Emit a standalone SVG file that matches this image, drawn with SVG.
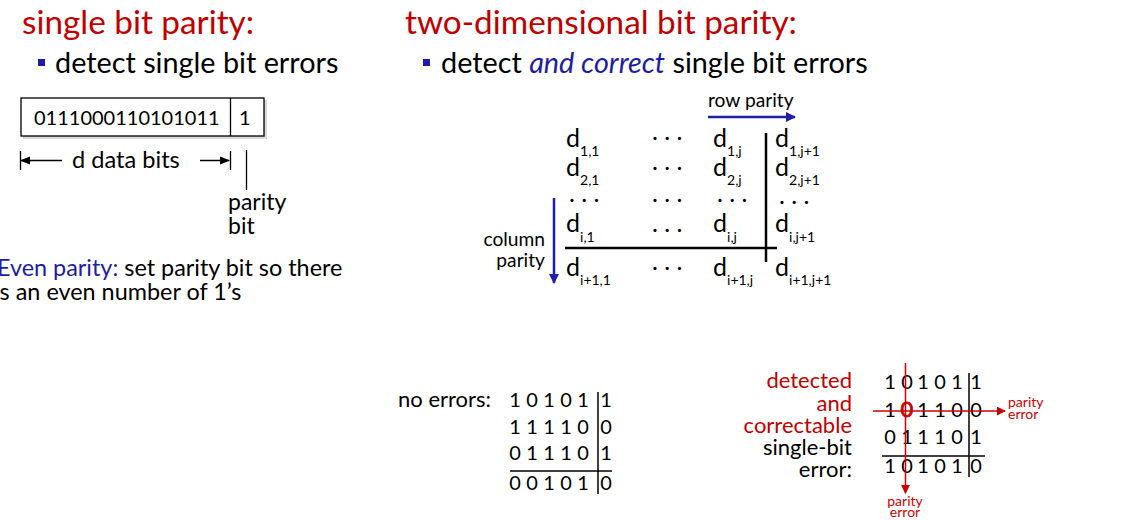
<svg xmlns="http://www.w3.org/2000/svg" width="1136" height="520" viewBox="0 0 1136 520">
<defs>
<style>
text{font-family:Lato,"Liberation Sans",sans-serif;fill:#000}
.title{font-size:33.3px;fill:#c00000}
.bul{font-size:28.8px}
.blue{fill:#1c1ca6}
.red{fill:#c00000}
.m{font-size:25px}
.sub{font-size:14px}
.dig{font-size:20px;text-anchor:middle}
.lbl{font-size:19.2px}
.lab{font-size:22px}
.small{font-size:14px;fill:#cc0000}
.blk{stroke:#000;fill:none}
</style>
<marker id="ab" viewBox="0 0 10 10" refX="9" refY="5" markerWidth="4" markerHeight="4" orient="auto-start-reverse" markerUnits="strokeWidth"><path d="M0,0 L10,5 L0,10 z" fill="#1f1fa6"/></marker>
<marker id="ar" viewBox="0 0 10 10" refX="9" refY="5" markerWidth="6" markerHeight="6" orient="auto" markerUnits="strokeWidth"><path d="M0,0 L10,5 L0,10 z" fill="#cc0000"/></marker>
<marker id="ak" viewBox="0 0 10 10" refX="9" refY="5" markerWidth="7" markerHeight="7" orient="auto-start-reverse" markerUnits="strokeWidth"><path d="M0,1 L10,5 L0,9 z" fill="#000"/></marker>
</defs>
<rect width="1136" height="520" fill="#fff"/>

<g id="left-heading">
<text class="title" x="22" y="34">single bit parity:</text>
<rect x="38" y="59" width="7" height="7" fill="#1c1ca6"/>
<text class="bul" x="55" y="73">detect single bit errors</text>
</g>

<g id="parity-box">
<rect x="23" y="100" width="244" height="39" fill="#d8d8d8"/>
<rect x="21" y="98" width="243" height="38" fill="#fff" stroke="#000" stroke-width="1.3"/>
<line x1="230.5" y1="98" x2="230.5" y2="136" stroke="#000" stroke-width="1.3"/>
<text x="34" y="125" style="font-size:20px">0111000110101011</text>
<text x="239" y="125" style="font-size:20px">1</text>
</g>

<g id="data-bits-label">
<line x1="20.5" y1="151" x2="20.5" y2="170" class="blk" stroke-width="1.3"/>
<line x1="230.5" y1="151" x2="230.5" y2="170" class="blk" stroke-width="1.3"/>
<text x="72" y="168" style="font-size:23.6px">d data bits</text>
</g>

<g id="parity-bit-label">
<line x1="246.5" y1="150" x2="246.5" y2="190" class="blk" stroke-width="1.3"/>
<text x="228" y="210" style="font-size:23px">parity</text>
<text x="228" y="234" style="font-size:23px">bit</text>
</g>

<g id="even-parity">
<text x="-3" y="276" style="font-size:23.4px"><tspan class="blue">Even parity:</tspan> set parity bit so there</text>
<text x="-6" y="300" style="font-size:23.4px">is an even number of 1’s</text>
</g>

<g id="right-heading">
<text class="title" x="405" y="34">two-dimensional bit parity:</text>
<rect x="423" y="59" width="7" height="7" fill="#1c1ca6"/>
<text class="bul" x="441" y="73">detect <tspan class="blue" font-style="italic">and correct</tspan> single bit errors</text>
</g>

<g id="matrix">
<text class="m" x="566" y="147">d<tspan class="sub" dy="9">1,1</tspan></text>
<text class="m" x="566" y="176">d<tspan class="sub" dy="9">2,1</tspan></text>
<text class="m" x="566" y="232">d<tspan class="sub" dy="10">i,1</tspan></text>
<text class="m" x="566" y="276">d<tspan class="sub" dy="9">i+1,1</tspan></text>
<text class="m" x="713" y="147">d<tspan class="sub" dy="9">1,j</tspan></text>
<text class="m" x="713" y="176">d<tspan class="sub" dy="9">2,j</tspan></text>
<text class="m" x="713" y="232">d<tspan class="sub" dy="10">i,j</tspan></text>
<text class="m" x="713" y="276">d<tspan class="sub" dy="9">i+1,j</tspan></text>
<text class="m" x="775" y="147">d<tspan class="sub" dy="9">1,j+1</tspan></text>
<text class="m" x="775" y="176">d<tspan class="sub" dy="9">2,j+1</tspan></text>
<text class="m" x="775" y="232">d<tspan class="sub" dy="10">i,j+1</tspan></text>
<text class="m" x="775" y="276">d<tspan class="sub" dy="9">i+1,j+1</tspan></text>
<text class="m" x="652" y="140">. . .</text>
<text class="m" x="652" y="170">. . .</text>
<text class="m" x="652" y="202">. . .</text>
<text class="m" x="652" y="232">. . .</text>
<text class="m" x="652" y="270">. . .</text>
<text class="m" x="569" y="202">. . .</text>
<text class="m" x="717" y="202">. . .</text>
<text class="m" x="779" y="204">. . .</text>
<line x1="565" y1="248" x2="777" y2="248" stroke="#000" stroke-width="2.5"/>
<line x1="766" y1="133" x2="766" y2="262" stroke="#000" stroke-width="2.5"/>
<text class="lbl" x="708" y="107">row parity</text>
<text class="lbl" x="545" y="246" text-anchor="end">column</text>
<text class="lbl" x="545" y="267" text-anchor="end">parity</text>
</g>

<g id="no-errors">
<text x="398" y="407" class="lab">no errors:</text>
<text class="dig" y="407"><tspan x="515">1</tspan><tspan x="532">0</tspan><tspan x="549">1</tspan><tspan x="566">0</tspan><tspan x="583">1</tspan><tspan x="606">1</tspan></text>
<text class="dig" y="434"><tspan x="515">1</tspan><tspan x="532">1</tspan><tspan x="549">1</tspan><tspan x="566">1</tspan><tspan x="583">0</tspan><tspan x="606">0</tspan></text>
<text class="dig" y="460"><tspan x="515">0</tspan><tspan x="532">1</tspan><tspan x="549">1</tspan><tspan x="566">1</tspan><tspan x="583">0</tspan><tspan x="606">1</tspan></text>
<text class="dig" y="490"><tspan x="515">0</tspan><tspan x="532">0</tspan><tspan x="549">1</tspan><tspan x="566">0</tspan><tspan x="583">1</tspan><tspan x="606">0</tspan></text>
<line x1="598" y1="392" x2="598" y2="494" stroke="#000" stroke-width="1.5"/>
<line x1="510" y1="471" x2="612" y2="471" stroke="#000" stroke-width="1.5"/>
</g>

<g id="error-case">
<text x="852" y="388" text-anchor="end" class="lab red">detected</text>
<text x="852" y="411" text-anchor="end" class="lab red">and</text>
<text x="852" y="433" text-anchor="end" class="lab red">correctable</text>
<text x="852" y="455" text-anchor="end" class="lab">single-bit</text>
<text x="852" y="477" text-anchor="end" class="lab">error:</text>
<text class="dig" y="389"><tspan x="890">1</tspan><tspan x="907">0</tspan><tspan x="923">1</tspan><tspan x="940">0</tspan><tspan x="957">1</tspan><tspan x="976">1</tspan></text>
<text class="dig" y="417"><tspan x="890">1</tspan><tspan x="907" fill="#cc0000" stroke="#cc0000" stroke-width="0.8" font-size="22px">0</tspan><tspan x="923">1</tspan><tspan x="940">1</tspan><tspan x="957">0</tspan><tspan x="976">0</tspan></text>
<text class="dig" y="444"><tspan x="890">0</tspan><tspan x="907">1</tspan><tspan x="923">1</tspan><tspan x="940">1</tspan><tspan x="957">0</tspan><tspan x="976">1</tspan></text>
<text class="dig" y="473"><tspan x="890">1</tspan><tspan x="907">0</tspan><tspan x="923">1</tspan><tspan x="940">0</tspan><tspan x="957">1</tspan><tspan x="976">0</tspan></text>
<line x1="969" y1="373" x2="969" y2="477" stroke="#000" stroke-width="1.5"/>
<line x1="882" y1="456" x2="985" y2="456" stroke="#000" stroke-width="1.5"/>
<text class="small" x="1008" y="407">parity</text>
<text class="small" x="1008" y="419">error</text>
<text class="small" x="905" y="506" text-anchor="middle">parity</text>
<text class="small" x="905" y="517" text-anchor="middle">error</text>
</g>

<g id="connectors">
<line x1="62" y1="160.5" x2="21" y2="160.5" stroke="#000" stroke-width="1.5" marker-end="url(#ak)"/>
<line x1="200" y1="160.5" x2="229" y2="160.5" stroke="#000" stroke-width="1.5" marker-end="url(#ak)"/>
<line x1="708" y1="117" x2="795" y2="117" stroke="#1f1fa6" stroke-width="2.5" marker-end="url(#ab)"/>
<line x1="554" y1="198" x2="554" y2="283" stroke="#1f1fa6" stroke-width="2.5" marker-end="url(#ab)"/>
<line x1="905.5" y1="363" x2="905.5" y2="493" stroke="#cc0000" stroke-width="1.5" marker-end="url(#ar)"/>
<line x1="873" y1="411" x2="1005" y2="411" stroke="#cc0000" stroke-width="1.5" marker-end="url(#ar)"/>
</g>
</svg>
